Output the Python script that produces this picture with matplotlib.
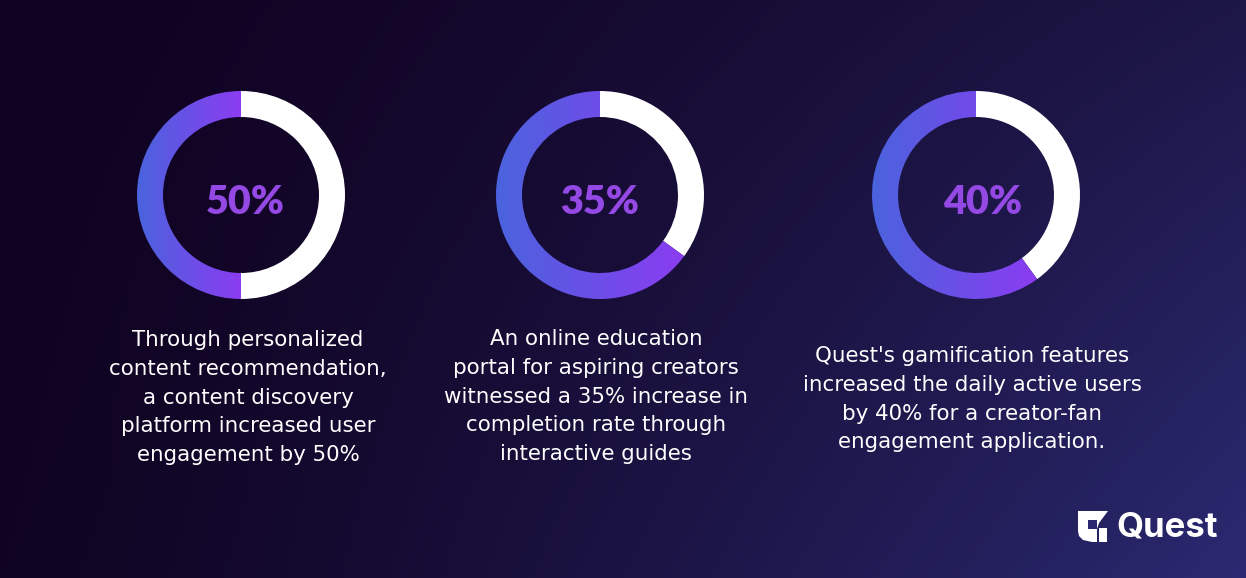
import numpy as np
import matplotlib
matplotlib.use("Agg")
import matplotlib.pyplot as plt
from matplotlib.patches import Wedge, Polygon
from matplotlib.colors import LinearSegmentedColormap, to_rgb

# ---- data ----
values = [50, 35, 40]
labels = ["50%", "35%", "40%"]
captions = [
    ["Through personalized", "content recommendation,", "a content discovery",
     "platform increased user", "engagement by 50%"],
    ["An online education", "portal for aspiring creators", "witnessed a 35% increase in",
     "completion rate through", "interactive guides"],
    ["Quest's gamification features", "increased the daily active users",
     "by 40% for a creator-fan", "engagement application."],
]
brand = "Quest"

# ---- layout / style ----
W, H = 1246, 578
centers = [(241, 195), (600, 195), (976, 195)]
R_OUT, WIDTH = 104, 26
label_x = [245, 600, 983]
cap_x = [248, 596, 972]
cap_top = [340, 339, 356]
line_h = 28.8
grad_cmap = LinearSegmentedColormap.from_list("g", ["#4a63dd", "#8b3cf1"])
pct_color = "#9448e4"

fig = plt.figure(figsize=(W / 100, H / 100), dpi=100)
ax = fig.add_axes([0, 0, 1, 1])
ax.set_xlim(0, W)
ax.set_ylim(H, 0)
ax.axis("off")

# background gradient (bilinear between corners)
tl, tr = np.array(to_rgb("#100120")), np.array(to_rgb("#1d1747"))
bl, br = np.array(to_rgb("#100423")), np.array(to_rgb("#2b2a72"))
yy, xx = np.mgrid[0:1:200j, 0:1:400j]
u = xx[..., None] ** 1.3
v = yy[..., None]
bg = (tl * (1 - u) * (1 - v) + tr * u * (1 - v) + bl * (1 - u) * v + br * u * v)
ax.imshow(bg, extent=[0, W, H, 0], aspect="auto", zorder=0, interpolation="bilinear")

grad = np.linspace(0, 1, 256)[None, :]
for i, ((cx, cy), val, lab) in enumerate(zip(centers, values, labels)):
    ang = val * 3.6
    # y-axis is inverted: data angle 270 is the top of the screen and
    # increasing data angle runs clockwise on screen.
    white = Wedge((cx, cy), R_OUT, 270, 270 + ang, width=WIDTH,
                  facecolor="white", edgecolor="none", zorder=2)
    ax.add_patch(white)
    colored = Wedge((cx, cy), R_OUT, 270 + ang, 270 + 360, width=WIDTH,
                    facecolor="none", edgecolor="none", zorder=2)
    ax.add_patch(colored)
    end = np.deg2rad(270 + ang)
    cxe = np.cos(end)
    xmax = cx + R_OUT * cxe if cxe > 0 else cx
    im = ax.imshow(grad, cmap=grad_cmap, extent=[cx - R_OUT, xmax, cy + R_OUT, cy - R_OUT],
                   aspect="auto", zorder=2, interpolation="bilinear")
    im.set_clip_path(colored)
    ax.text(label_x[i], cy + 7, lab,
            ha="center", va="center", color=pct_color, fontsize=28.5,
            fontweight="heavy", family="Lato", zorder=3)

for i, lines in enumerate(captions):
    for j, line in enumerate(lines):
        ax.text(cap_x[i], cap_top[i] + j * line_h, line, ha="center", va="center",
                color="white", fontsize=15.4, family="DejaVu Sans", zorder=3)

# logo icon
icon_outer = [(1078, 511), (1108, 511), (1099, 523), (1097, 529), (1097, 542),
              (1092, 542), (1083, 540), (1079, 536), (1078, 531)]
ax.add_patch(Polygon(icon_outer, closed=True, facecolor="white", edgecolor="none", zorder=3))
ax.add_patch(Polygon([(1088, 520), (1097, 520), (1097, 529), (1088, 529)], closed=True,
                     facecolor="#2a2870", edgecolor="none", zorder=4))
ax.add_patch(Polygon([(1099, 528), (1107, 528), (1107, 542), (1099, 542)], closed=True,
                     facecolor="white", edgecolor="none", zorder=3))
ax.text(1116, 527, brand, ha="left", va="center", color="white", fontsize=25,
        fontweight="bold", family="Inter", zorder=3)

fig.savefig("out.png", dpi=100)
